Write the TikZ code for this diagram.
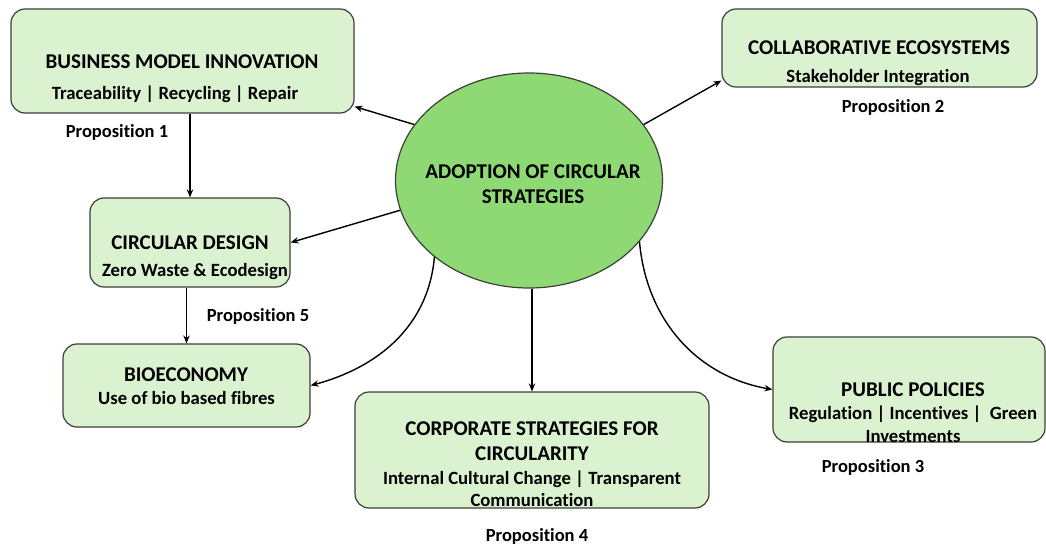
\documentclass[tikz,border=0pt]{standalone}
\usepackage{fontspec}
\setmainfont{Carlito}[Ligatures=NoCommon]
\usetikzlibrary{shapes.geometric,arrows.meta}
\definecolor{boxfill}{HTML}{DAF2D0}
\definecolor{corefill}{HTML}{8ED973}
\definecolor{edge}{HTML}{3A3F38}
\begin{document}
\begin{tikzpicture}[x=1pt,y=1pt,
    box/.style={draw=edge,fill=boxfill,line width=1.2pt,rounded corners=14pt,inner sep=0pt},
    core/.style={ellipse,draw=edge,fill=corefill,line width=1.2pt,inner sep=0pt},
    head/.style={font=\bfseries\fontsize{21}{25}\selectfont,align=center,inner sep=0pt},
    sub/.style={font=\bfseries\fontsize{18.7}{22.5}\selectfont,align=center,inner sep=0pt},
    prop/.style={font=\bfseries\fontsize{18.5}{22}\selectfont,inner sep=0pt},
    link/.style={line width=1.4pt,-{Stealth[length=8pt,width=6.5pt]}}]
    \useasboundingbox (0,0) rectangle (1046,547);
    \node[box,minimum width=343,minimum height=104] (bmi) at (182.5,486) {};
    \node[head] (bmiT) at (182,485) {BUSINESS MODEL INNOVATION};
    \node[sub] (bmiS) at (175,453) {Traceability | Recycling | Repair};
    \node[prop] (p1) at (117,415) {Proposition 1};
    \node[box,minimum width=315,minimum height=78] (eco) at (879.5,499) {};
    \node[head] (ecoT) at (879,499) {COLLABORATIVE ECOSYSTEMS};
    \node[sub] (ecoS) at (878,469) {Stakeholder Integration};
    \node[prop] (p2) at (893,440) {Proposition 2};
    \node[core,minimum width=267,minimum height=215] (ell) at (529,366.5) {};
    \node[head] (ellT) at (533,362.5) {ADOPTION OF CIRCULAR\\STRATEGIES};
    \node[box,minimum width=200,minimum height=89] (cd) at (190,304.5) {};
    \node[head] (cdT) at (190,304) {CIRCULAR DESIGN};
    \node[sub] (cdS) at (195,275) {Zero Waste \& Ecodesign};
    \node[prop] (p5) at (258,231) {Proposition 5};
    \node[box,minimum width=247,minimum height=83] (bio) at (186.5,161.5) {};
    \node[head] (bioT) at (186,172) {BIOECONOMY};
    \node[sub] (bioS) at (186.5,149) {Use of bio based fibres};
    \node[box,minimum width=354,minimum height=116] (corp) at (532,97) {};
    \node[head] (corpT) at (532,105.5) {CORPORATE STRATEGIES FOR\\CIRCULARITY};
    \node[sub] (corpS) at (532,58.5) {Internal Cultural Change | Transparent\\Communication};
    \node[prop] (p4) at (537,11) {Proposition 4};
    \node[box,minimum width=272,minimum height=105] (pol) at (909,157.5) {};
    \node[head] (polT) at (913,157) {PUBLIC POLICIES};
    \node[sub] (polS) at (913,123) {Regulation | Incentives |\ \ Green\\Investments};
    \node[prop] (p3) at (873,80) {Proposition 3};
    \draw[link] (ell.154) -- ([yshift=7pt]bmi.south east);
    \draw[link] (ell.26) -- ([yshift=7pt]eco.south west);
    \draw[link] (ell.193) -- (cd.east);
    \draw[link] (bmi.south -| cd.north) -- (cd.north);
    \draw[link] (cd.south -| bio.north) -- (bio.north);
    \draw[link] (ell.219) to[out=-95,in=15] (bio.east);
    \draw[link] (ell.south -| corp.north) -- (corp.north);
    \draw[link] (ell.331) to[out=-85,in=170] (pol.west);
\end{tikzpicture}
\end{document}
